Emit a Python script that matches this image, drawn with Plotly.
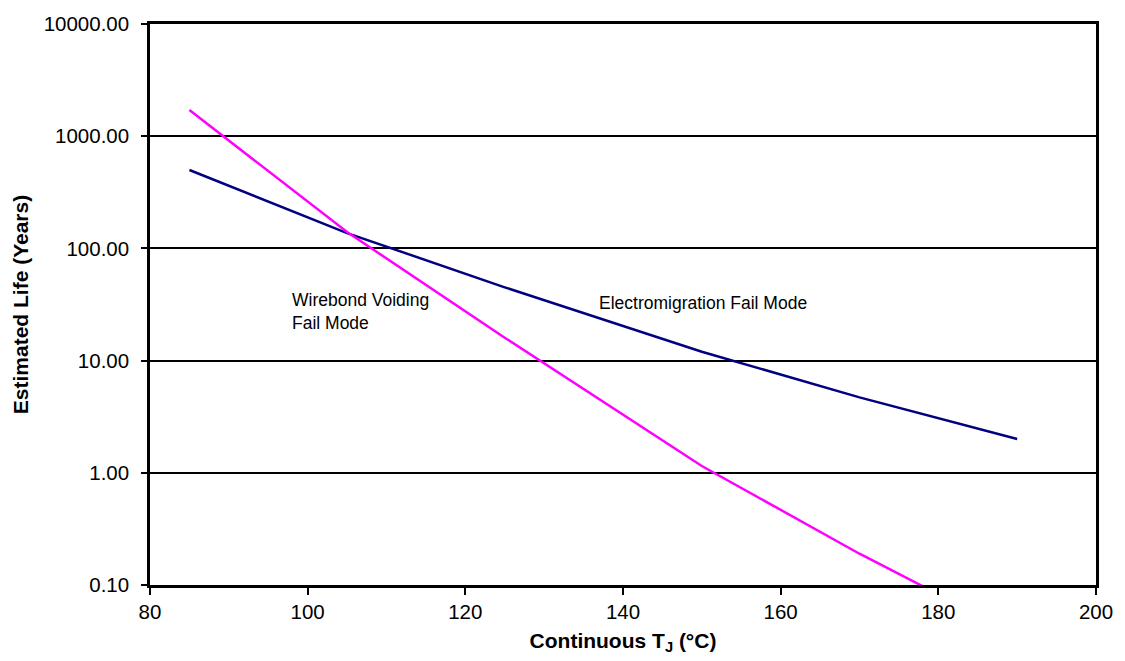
import plotly.graph_objects as go

temps = [85, 105, 125, 150, 170, 190]
electromigration = [500, 137, 45, 12, 4.7, 2.0]
wirebond = [1710, 140, 16, 1.15, 0.19, 0.036]

y_ticks = [0.1, 1, 10, 100, 1000, 10000]
y_tick_labels = ["0.10", "1.00", "10.00", "100.00", "1000.00", "10000.00"]
x_ticks = [80, 100, 120, 140, 160, 180, 200]

FONT = "Liberation Sans, Arial, sans-serif"

fig = go.Figure()
fig.add_trace(go.Scatter(x=temps, y=electromigration, mode="lines",
                         line=dict(color="#000080", width=2.5),
                         name="Electromigration Fail Mode"))
fig.add_trace(go.Scatter(x=temps, y=wirebond, mode="lines",
                         line=dict(color="#FF00FF", width=2.5),
                         name="Wirebond Voiding Fail Mode"))

fig.add_annotation(x=97.8, y=1.434, xref="x", yref="y",
                   text="Wirebond Voiding<br>Fail Mode", showarrow=False,
                   xanchor="left", yanchor="middle", align="left",
                   font=dict(family=FONT, size=17.5, color="black"))
fig.add_annotation(x=136.7, y=1.513, xref="x", yref="y",
                   text="Electromigration Fail Mode", showarrow=False,
                   xanchor="left", yanchor="middle", align="left",
                   font=dict(family=FONT, size=17.5, color="black"))

fig.update_layout(
    width=1125, height=661,
    margin=dict(l=150, r=22, t=16, b=76),
    paper_bgcolor="white", plot_bgcolor="white",
    showlegend=False,
    font=dict(family=FONT, color="black"),
)
fig.update_xaxes(
    range=[80, 200], tickvals=x_ticks, ticks="outside", ticklen=7, tickwidth=2,
    tickcolor="black", showline=True, linecolor="black", linewidth=2.5,
    mirror=True, showgrid=False, zeroline=False,
    tickfont=dict(family=FONT, size=20.5, color="black"),
    title=dict(text="<b>Continuous T<sub>J</sub> (°C)</b>", standoff=11,
               font=dict(family=FONT, size=21, color="black")),
)
fig.update_yaxes(
    type="log", range=[-1, 4], tickvals=y_ticks, ticktext=y_tick_labels,
    ticks="outside", ticklen=6, tickwidth=2, tickcolor="black",
    ticklabelstandoff=8,
    showline=True, linecolor="black", linewidth=2.5, mirror=True,
    showgrid=True, gridcolor="black", gridwidth=2, zeroline=False,
    tickfont=dict(family=FONT, size=20.5, color="black"),
    title=dict(text="<b>Estimated Life (Years)</b>", standoff=10,
               font=dict(family=FONT, size=21, color="black")),
)

fig.write_html(
    "out.html",
    config={"displayModeBar": False},
    post_script="document.body.style.margin='0';document.body.style.overflow='hidden';",
)
